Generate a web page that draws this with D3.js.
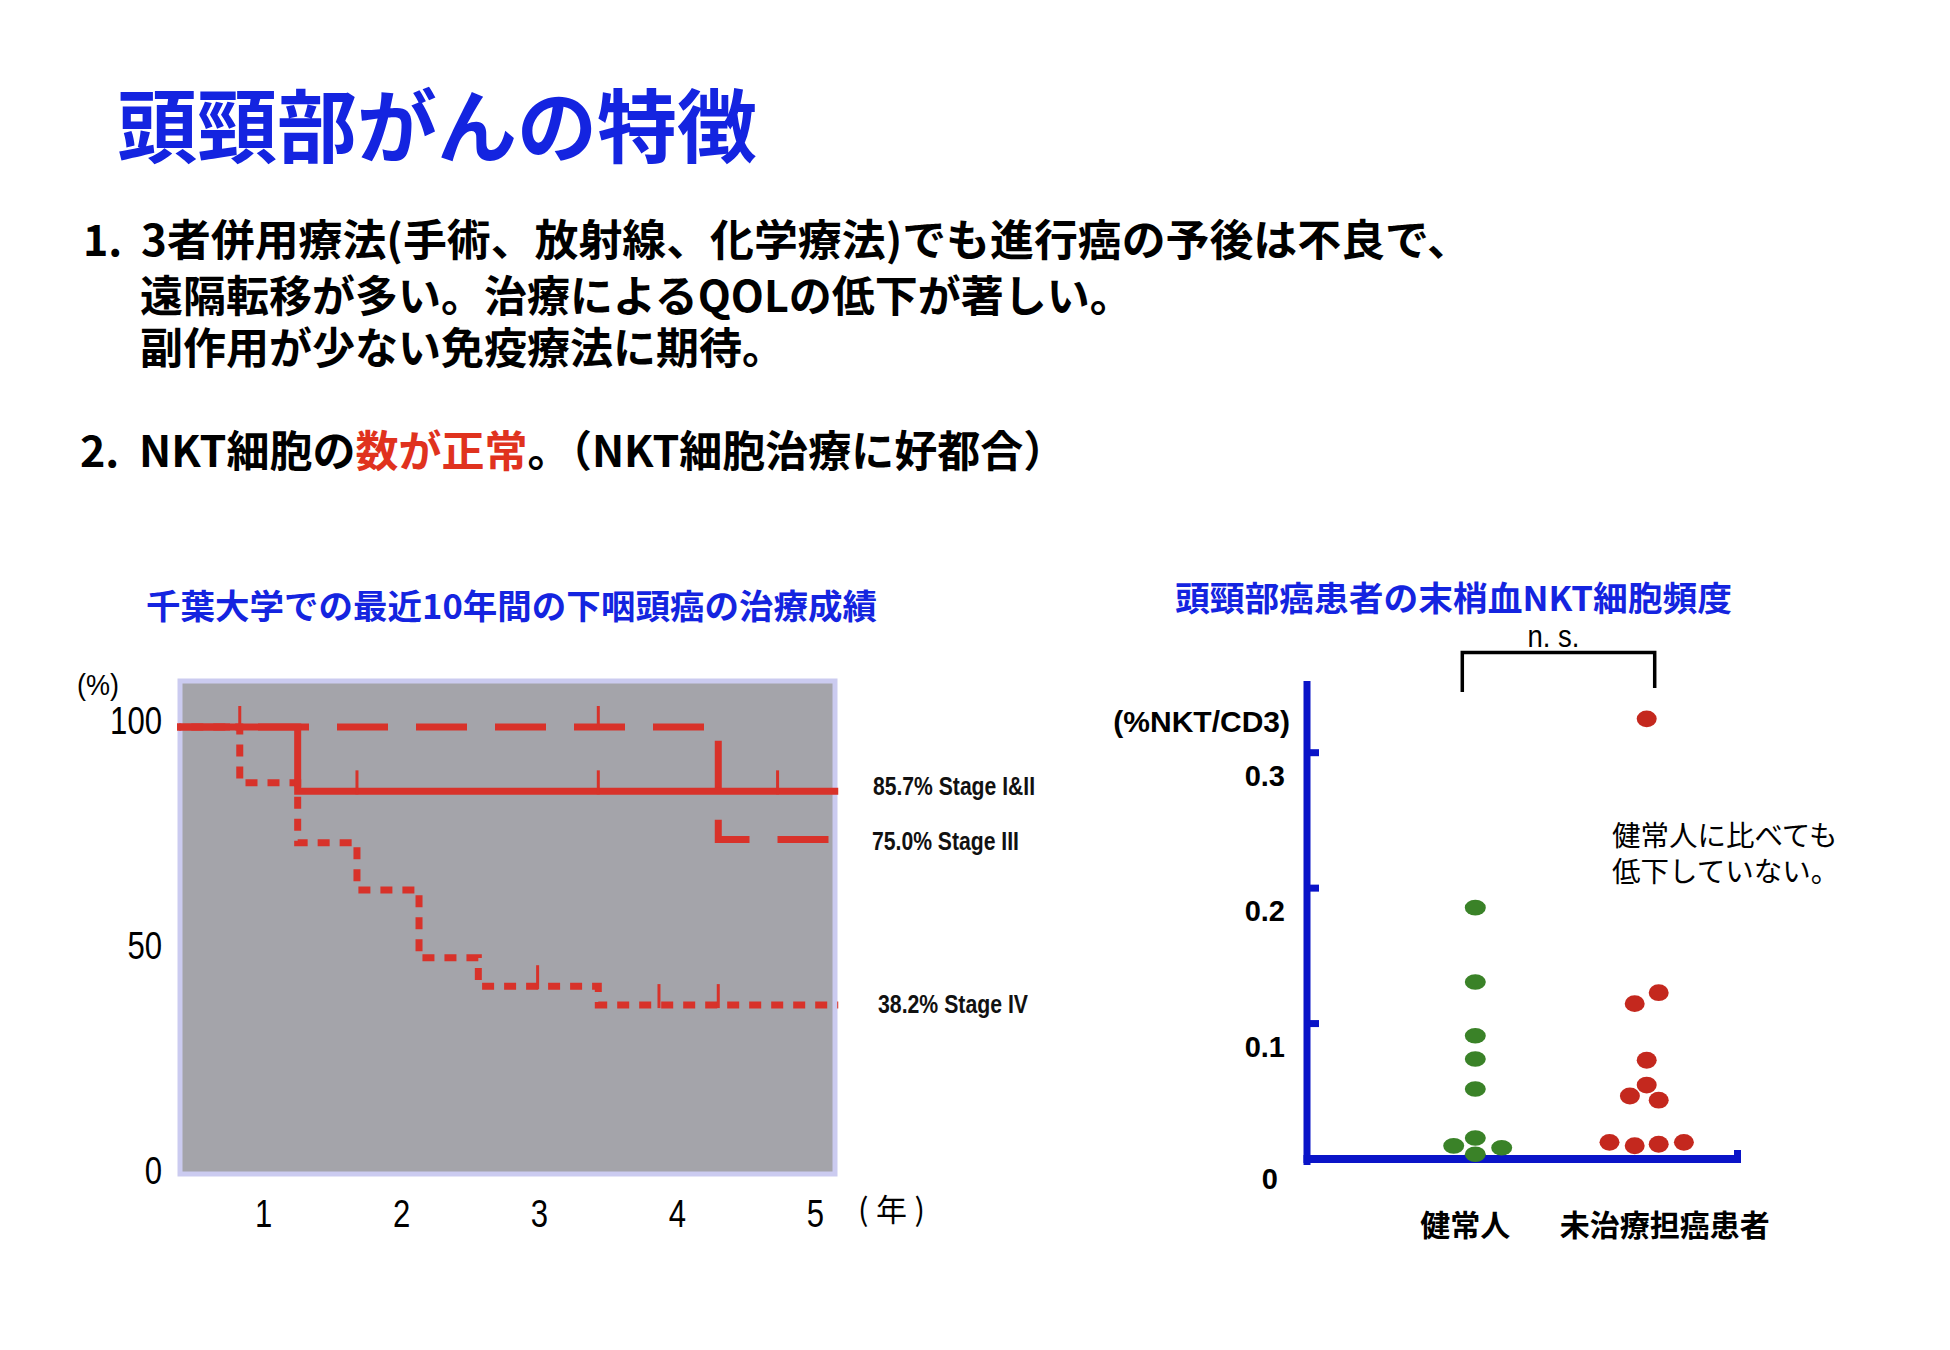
<!DOCTYPE html>
<html>
<head>
<meta charset="utf-8">
<script src="https://cdn.jsdelivr.net/npm/d3@7"></script>
<style>
  body { margin: 0; background: #fff; }
  svg { display: block; }
</style>
</head>
<body>
<svg width="1950" height="1350"></svg>
<script>
// Slide text
const headline = "頭頸部がんの特徴";
const point1Lines = [
  "3者併用療法(手術、放射線、化学療法)でも進行癌の予後は不良で、",
  "遠隔転移が多い。治療によるQOLの低下が著しい。",
  "副作用が少ない免疫療法に期待。"
];
const point2Parts = ["NKT細胞の", "数が正常", "。（NKT細胞治療に好都合）"];
const kmTitle = "千葉大学での最近10年間の下咽頭癌の治療成績";
const nktTitle = "頭頸部癌患者の末梢血NKT細胞頻度";

// Survival curves (years, % survival)
const stage12Time = [0, 1.25, 5.17];
const stage12Surv = [100, 85.7, 85.7];
const stage12Censor = [1.68, 3.43, 4.73];
const stage3Time = [0, 4.30, 5.17];
const stage3Surv = [100, 75.0, 75.0];
const stage3Censor = [0.83, 3.43];
const stage4Time = [0, 0.83, 1.25, 1.68, 2.13, 2.56, 3.43, 5.17];
const stage4Surv = [100, 87.6, 74.3, 63.8, 48.7, 42.4, 38.2, 38.2];
const stage4Censor = [2.99, 3.87, 4.30];
const stageLabels = ["85.7% Stage I&II", "75.0% Stage III", "38.2% Stage IV"];
const kmYTicks = [0, 50, 100];
const kmXTicks = [1, 2, 3, 4, 5];

// NKT frequency (%NKT/CD3), slot = sideways offset of a dot inside its group
const nktGroups = ["健常人", "未治療担癌患者"];
const healthyVals = [0.1856, 0.1307, 0.0910, 0.0738, 0.0517, 0.0155, 0.0097, 0.0083, 0.0035];
const healthySlot = [0, 0, 0, 0, 0, 0, -0.9, 1.1, 0];
const patientVals = [0.325, 0.1228, 0.1147, 0.0729, 0.0546, 0.0465, 0.0434, 0.0123, 0.0098, 0.0109, 0.0123];
const patientSlot = [0, 0.5, -0.5, 0, 0, -0.7, 0.5, -1.55, -0.5, 0.5, 1.55];
const nktTicks = [0, 0.1, 0.2, 0.3];

const JP = "'Noto Sans CJK JP', sans-serif";
const NARROW = "'Liberation Sans Narrow', 'Liberation Sans', Arial, sans-serif";
const ARIAL = "'Liberation Sans', Arial, sans-serif";
const blue = "#1424e0";
const red = "#d8322a";

const svg = d3.select("svg");

// ---------- header text ----------
svg.append("text")
  .attr("x", 117).attr("y", 156)
  .attr("font-family", JP).attr("font-weight", 700).attr("font-size", 80)
  .attr("fill", blue)
  .text(headline);

const body = svg.append("g")
  .attr("font-family", JP).attr("font-weight", 700).attr("font-size", 43)
  .attr("fill", "#000");

body.append("text").attr("x", 83).attr("y", 256).text("1.");
body.append("text").attr("x", 141).attr("y", 256)
  .attr("textLength", 1330).attr("lengthAdjust", "spacingAndGlyphs")
  .text(point1Lines[0]);
body.append("text").attr("x", 140).attr("y", 312).text(point1Lines[1]);
body.append("text").attr("x", 140).attr("y", 364).text(point1Lines[2]);

body.append("text").attr("x", 80).attr("y", 467).text("2.");
const p2 = body.append("text").attr("x", 139).attr("y", 467);
p2.selectAll("tspan")
  .data(point2Parts)
  .enter().append("tspan")
  .attr("fill", (d, i) => i === 1 ? "#e0321e" : "#000")
  .text(d => d);

// ---------- left: survival chart ----------
svg.append("text")
  .attr("x", 146).attr("y", 619)
  .attr("font-family", JP).attr("font-weight", 700).attr("font-size", 34)
  .attr("fill", blue)
  .attr("textLength", 731).attr("lengthAdjust", "spacingAndGlyphs")
  .text(kmTitle);

const kmX = d3.scaleLinear().domain([0, 5]).range([125.3, 814.8]);
const kmY = d3.scaleLinear().domain([0, 100]).range([1177, 727]);

// plot panel
svg.append("rect")
  .attr("x", 180).attr("y", 681)
  .attr("width", 655).attr("height", 493)
  .attr("fill", "#a4a4aa")
  .attr("stroke", "#cbcbf0")
  .attr("stroke-width", 5);

svg.append("clipPath").attr("id", "kmclip")
  .append("rect")
  .attr("x", 177).attr("y", 676).attr("width", 662).attr("height", 502);

const km = svg.append("g").attr("clip-path", "url(#kmclip)");

const stepLine = d3.line()
  .x(d => kmX(d.t))
  .y(d => kmY(d.s))
  .curve(d3.curveStepAfter);

const series = [
  { time: stage4Time, surv: stage4Surv, censor: stage4Censor, dash: "12,10", off: 0 },
  { time: stage3Time, surv: stage3Surv, censor: stage3Censor, dash: "51,28", off: 25.3 },
  { time: stage12Time, surv: stage12Surv, censor: stage12Censor, dash: null, off: 0 }
];

series.forEach(s => {
  const pts = s.time.map((t, i) => ({ t: t, s: s.surv[i] }));
  km.append("path")
    .attr("d", stepLine(pts))
    .attr("fill", "none")
    .attr("stroke", red)
    .attr("stroke-width", 7)
    .attr("stroke-dasharray", s.dash)
    .attr("stroke-dashoffset", s.off);

  // censor marks sit on the curve level at that time
  const level = t => {
    let v = s.surv[0];
    s.time.forEach((tt, i) => { if (tt <= t) v = s.surv[i]; });
    return v;
  };
  km.selectAll(null)
    .data(s.censor)
    .enter().append("line")
    .attr("x1", d => kmX(d)).attr("x2", d => kmX(d))
    .attr("y1", d => kmY(level(d)) - 21)
    .attr("y2", d => kmY(level(d)) + 3)
    .attr("stroke", red)
    .attr("stroke-width", 3);
});

// axes (labels only, like the slide)
const kmYAxis = svg.append("g")
  .attr("transform", "translate(165,0)")
  .call(d3.axisLeft(kmY).tickValues(kmYTicks).tickSize(0).tickPadding(3));
kmYAxis.select(".domain").remove();
kmYAxis.selectAll("text")
  .attr("font-family", NARROW).attr("font-size", 38).attr("fill", "#000")
  .attr("dy", 6.5)
  .attr("textLength", d => String(d).length * 17.3)
  .attr("lengthAdjust", "spacingAndGlyphs");

const kmXAxis = svg.append("g")
  .attr("transform", "translate(0,1200)")
  .call(d3.axisBottom(kmX).tickValues(kmXTicks).tickFormat(d3.format("d")).tickSize(0).tickPadding(0));
kmXAxis.select(".domain").remove();
kmXAxis.selectAll("text")
  .attr("font-family", NARROW).attr("font-size", 38).attr("fill", "#000")
  .attr("y", 27).attr("dy", 0)
  .attr("textLength", 17.3)
  .attr("lengthAdjust", "spacingAndGlyphs");

svg.append("text")
  .attr("x", 77).attr("y", 695)
  .attr("font-family", NARROW).attr("font-size", 30)
  .attr("textLength", 42).attr("lengthAdjust", "spacingAndGlyphs")
  .text("(%)");

svg.append("text")
  .attr("x", 858).attr("y", 1221)
  .attr("font-family", JP).attr("font-size", 31)
  .attr("textLength", 67).attr("lengthAdjust", "spacing")
  .text("(年)");

// curve labels
const stageLabelPos = [[873, 795, 162], [872, 850, 147], [878, 1013, 150]];
svg.selectAll(".stagelab")
  .data(stageLabels)
  .enter().append("text")
  .attr("class", "stagelab")
  .attr("x", (d, i) => stageLabelPos[i][0])
  .attr("y", (d, i) => stageLabelPos[i][1])
  .attr("textLength", (d, i) => stageLabelPos[i][2])
  .attr("lengthAdjust", "spacingAndGlyphs")
  .attr("font-family", NARROW).attr("font-weight", 700).attr("font-size", 25)
  .attr("fill", "#111")
  .text(d => d);

// ---------- right: NKT dot plot ----------
svg.append("text")
  .attr("x", 1175).attr("y", 611)
  .attr("font-family", JP).attr("font-weight", 700).attr("font-size", 34)
  .attr("fill", blue)
  .attr("textLength", 557).attr("lengthAdjust", "spacingAndGlyphs")
  .text(nktTitle);

const gx = d3.scalePoint().domain(nktGroups).range([1475.3, 1646.7]);
const ny = d3.scaleLinear().domain([0, 0.3]).range([1159, 752.7]);
const slotW = 24;
const axisBlue = "#0a14c8";

// axis lines
svg.append("line")
  .attr("x1", 1307).attr("x2", 1307)
  .attr("y1", ny(0) + 6).attr("y2", ny(0.353))
  .attr("stroke", axisBlue).attr("stroke-width", 7);
svg.append("line")
  .attr("x1", 1303.5).attr("x2", 1740)
  .attr("y1", ny(0)).attr("y2", ny(0))
  .attr("stroke", axisBlue).attr("stroke-width", 8);
svg.append("rect")
  .attr("x", 1734).attr("y", ny(0) - 9).attr("width", 7).attr("height", 13)
  .attr("fill", axisBlue);

// inside ticks
svg.selectAll(".ntick")
  .data(nktTicks.filter(d => d > 0))
  .enter().append("line")
  .attr("class", "ntick")
  .attr("x1", 1307).attr("x2", 1319)
  .attr("y1", d => ny(d)).attr("y2", d => ny(d))
  .attr("stroke", axisBlue).attr("stroke-width", 7);

// tick labels sit a little below their ticks on the slide
svg.selectAll(".nlab")
  .data(nktTicks)
  .enter().append("text")
  .attr("class", "nlab")
  .attr("x", d => d === 0 ? 1278 : 1285)
  .attr("y", d => ny(d) + (d === 0 ? 30 : 33))
  .attr("text-anchor", "end")
  .attr("font-family", ARIAL).attr("font-weight", 700).attr("font-size", 29)
  .text(d => d === 0 ? "0" : d3.format(".1f")(d));

svg.append("text")
  .attr("x", 1290).attr("y", 732)
  .attr("text-anchor", "end")
  .attr("font-family", ARIAL).attr("font-weight", 700).attr("font-size", 30)
  .text("(%NKT/CD3)");

// n.s. bracket
const bx0 = gx(nktGroups[0]) - 13;
const bx1 = gx(nktGroups[1]) + 8;
svg.append("path")
  .attr("d", `M${bx0},692 V652.5 H${bx1} V688`)
  .attr("fill", "none")
  .attr("stroke", "#000")
  .attr("stroke-width", 3.5);
svg.append("text")
  .attr("x", (bx0 + bx1) / 2 - 5).attr("y", 647)
  .attr("text-anchor", "middle")
  .attr("font-family", NARROW).attr("font-size", 31)
  .attr("textLength", 52).attr("lengthAdjust", "spacingAndGlyphs")
  .text("n. s.");

// group labels
svg.selectAll(".glab")
  .data(nktGroups)
  .enter().append("text")
  .attr("class", "glab")
  .attr("x", (d, i) => gx(d) + (i === 0 ? -10 : 18))
  .attr("y", 1236)
  .attr("text-anchor", "middle")
  .attr("font-family", JP).attr("font-weight", 700).attr("font-size", 30)
  .text(d => d);

// annotation
svg.append("text")
  .attr("font-family", JP).attr("font-size", 28.5)
  .selectAll("tspan")
  .data(["健常人に比べても", "低下していない。"])
  .enter().append("tspan")
  .attr("x", 1612)
  .attr("y", (d, i) => 846 + i * 36)
  .text(d => d);

// dots
const healthy = healthyVals.map((v, i) => ({ g: nktGroups[0], v: v, slot: healthySlot[i] }));
const patients = patientVals.map((v, i) => ({ g: nktGroups[1], v: v, slot: patientSlot[i] }));

svg.selectAll(".hdot")
  .data(healthy)
  .enter().append("ellipse")
  .attr("class", "hdot")
  .attr("cx", d => gx(d.g) + d.slot * slotW)
  .attr("cy", d => ny(d.v))
  .attr("rx", 10.5).attr("ry", 7.8)
  .attr("fill", "#3a8228");

svg.selectAll(".pdot")
  .data(patients)
  .enter().append("ellipse")
  .attr("class", "pdot")
  .attr("cx", d => gx(d.g) + d.slot * slotW)
  .attr("cy", d => ny(d.v))
  .attr("rx", 10).attr("ry", 8.4)
  .attr("fill", "#c4281e");
</script>
</body>
</html>
